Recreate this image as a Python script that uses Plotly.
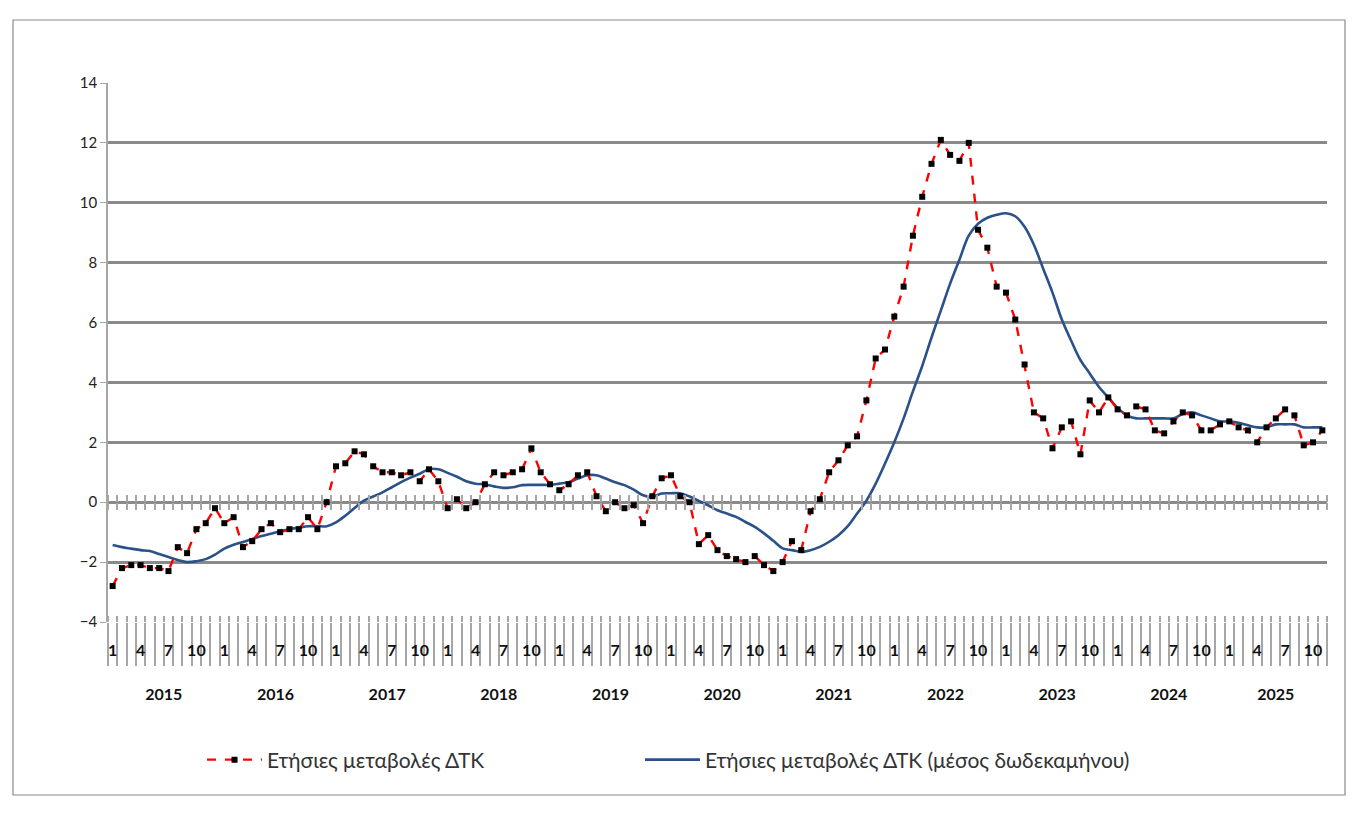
import plotly.graph_objects as go

# ετήσιες μεταβολές ΔΤΚ (%), Ιαν 2015 - Νοε 2025
cpi_yoy = [
    -2.8, -2.2, -2.1, -2.1, -2.2, -2.2, -2.3, -1.5, -1.7, -0.9, -0.7, -0.2,  # 2015
    -0.7, -0.5, -1.5, -1.3, -0.9, -0.7, -1.0, -0.9, -0.9, -0.5, -0.9, 0.0,   # 2016
    1.2, 1.3, 1.7, 1.6, 1.2, 1.0, 1.0, 0.9, 1.0, 0.7, 1.1, 0.7,             # 2017
    -0.2, 0.1, -0.2, 0.0, 0.6, 1.0, 0.9, 1.0, 1.1, 1.8, 1.0, 0.6,           # 2018
    0.4, 0.6, 0.9, 1.0, 0.2, -0.3, 0.0, -0.2, -0.1, -0.7, 0.2, 0.8,         # 2019
    0.9, 0.2, 0.0, -1.4, -1.1, -1.6, -1.8, -1.9, -2.0, -1.8, -2.1, -2.3,    # 2020
    -2.0, -1.3, -1.6, -0.3, 0.1, 1.0, 1.4, 1.9, 2.2, 3.4, 4.8, 5.1,         # 2021
    6.2, 7.2, 8.9, 10.2, 11.3, 12.1, 11.6, 11.4, 12.0, 9.1, 8.5, 7.2,       # 2022
    7.0, 6.1, 4.6, 3.0, 2.8, 1.8, 2.5, 2.7, 1.6, 3.4, 3.0, 3.5,             # 2023
    3.1, 2.9, 3.2, 3.1, 2.4, 2.3, 2.7, 3.0, 2.9, 2.4, 2.4, 2.6,             # 2024
    2.7, 2.5, 2.4, 2.0, 2.5, 2.8, 3.1, 2.9, 1.9, 2.0, 2.4,                  # 2025
]

# μέσος δωδεκαμήνου (διαβασμένος από το διάγραμμα)
cpi_12m = [
    -1.43, -1.5, -1.55, -1.6, -1.63, -1.73, -1.83, -1.93, -2.0, -1.97, -1.9, -1.75,
    -1.55, -1.42, -1.33, -1.23, -1.13, -1.05, -0.97, -0.9, -0.85, -0.8, -0.8, -0.8,
    -0.67, -0.45, -0.19, 0.05, 0.19, 0.33, 0.5, 0.67, 0.82, 0.95, 1.1, 1.1,
    0.98, 0.85, 0.7, 0.62, 0.6, 0.53, 0.48, 0.5, 0.57, 0.58, 0.58, 0.58,
    0.62, 0.67, 0.79, 0.9, 0.9, 0.79, 0.67, 0.57, 0.42, 0.23, 0.18, 0.29,
    0.3, 0.3, 0.19, 0.04, -0.1, -0.27, -0.38, -0.49, -0.66, -0.82, -1.04, -1.29,
    -1.54, -1.6, -1.66, -1.6, -1.49, -1.32, -1.1, -0.8, -0.38, 0.05, 0.62, 1.29,
    2.0, 2.8, 3.7, 4.55, 5.5, 6.4, 7.3, 8.1, 8.9, 9.3, 9.5, 9.6,
    9.65, 9.55, 9.2, 8.6, 7.8, 7.0, 6.1, 5.4, 4.75, 4.3, 3.85, 3.5,
    3.15, 2.9, 2.8, 2.8, 2.8, 2.8, 2.8, 2.95, 3.0, 2.9, 2.8, 2.7,
    2.7, 2.65, 2.57, 2.5, 2.5, 2.6, 2.6, 2.6, 2.5, 2.5, 2.5,
]

years = ["2015", "2016", "2017", "2018", "2019", "2020",
         "2021", "2022", "2023", "2024", "2025"]
month_labels = ["1", "", "", "4", "", "", "7", "", "", "10", "", ""]

name_yoy = "Ετήσιες μεταβολές ΔΤΚ"
name_avg = "Ετήσιες μεταβολές ΔΤΚ (μέσος δωδεκαμήνου)"

n = len(cpi_yoy)
idx = list(range(n))
FONT = "Lato"
GRID = "#8a8a8a"
TICK = "#a6a6a6"

# θέσεις ετικετών άξονα x
m_vals = [i for i in idx if month_labels[i % 12]]
m_text = [month_labels[i % 12] for i in m_vals]
y_vals = [12 * k + 5.5 for k in range(len(years))]
y_vals[-1] = 120 + (n - 120 - 1) / 2
bounds_year = [12 * k - 0.5 for k in range(len(years))] + [n - 0.5]
bounds_month = [i - 0.5 for i in range(n + 1)]

fig = go.Figure()
fig.add_trace(go.Scatter(
    x=idx, y=cpi_12m, name=name_avg, mode="lines",
    line=dict(color="#2a5188", width=2.6, shape="spline"),
    legend="legend2",
))
fig.add_trace(go.Scatter(
    x=idx, y=cpi_yoy, name=name_yoy, mode="lines+markers",
    line=dict(color="#ff0000", width=2.4, dash="dash"),
    marker=dict(symbol="square", size=6, color="black"),
    legend="legend",
))
# κενά ίχνη ώστε να σχεδιαστούν οι βοηθητικοί άξονες
for ax in ["x2", "x3", "x4", "x5", "x6"]:
    fig.add_trace(go.Scatter(x=[None], y=[None], xaxis=ax, yaxis="y",
                             showlegend=False, hoverinfo="skip"))

rng = [-0.5, n - 0.5]
p0 = (0 - (-4)) / 18
L, R, T, B = 100, 41, 75, 207
pw, ph = 1360 - L - R, 821 - T - B
leg_y = (T + ph - 752) / ph
leg_style = dict(orientation="h", y=leg_y, xanchor="left", yanchor="middle",
                 itemwidth=55, font=dict(size=21, color="#333"),
                 bgcolor="rgba(0,0,0,0)")

fig.update_layout(
    width=1360, height=821,
    margin=dict(l=L, r=R, t=T, b=B),
    paper_bgcolor="white", plot_bgcolor="white",
    font=dict(family=FONT, size=14, color="#222"),
    showlegend=True,
    legend=dict(x=(194 - L) / pw, **leg_style),
    legend2=dict(x=(632 - L) / pw, **leg_style),
    yaxis=dict(range=[-4, 14], dtick=2, showgrid=True, gridcolor=GRID,
               gridwidth=2.8, zeroline=False, showline=True, linecolor=TICK,
               linewidth=1.5, ticks="outside", ticklen=6, tickcolor=TICK,
               tickfont=dict(size=15, color="#222")),
    # διαχωριστικά ετών και μηνών
    xaxis=dict(range=rng, showgrid=False, zeroline=False, showline=False,
               tickmode="array", tickvals=bounds_year,
               ticktext=[""] * len(bounds_year),
               ticks="outside", ticklen=85, tickwidth=1.5, tickcolor=TICK,
               minor=dict(tickmode="array", tickvals=bounds_month,
                          ticks="outside", ticklen=43, tickwidth=1.5,
                          tickcolor=TICK, showgrid=False)),
    # ετικέτες μηνών
    xaxis2=dict(range=rng, overlaying="x", anchor="y", side="bottom",
                showgrid=False, zeroline=False, showline=False,
                tickmode="array", tickvals=m_vals, ticktext=m_text,
                ticks="outside", ticklen=14, tickcolor="rgba(0,0,0,0)",
                tickfont=dict(size=16, color="#111", family=FONT, weight="bold")),
    # ετικέτες ετών
    xaxis3=dict(range=rng, overlaying="x", anchor="y", side="bottom",
                showgrid=False, zeroline=False, showline=False,
                tickmode="array", tickvals=y_vals, ticktext=years,
                ticks="outside", ticklen=58, tickcolor="rgba(0,0,0,0)",
                tickfont=dict(size=16, color="#111", family=FONT, weight="bold")),
    # γραμμή υποδιαιρέσεων στο μηδέν
    xaxis4=dict(range=rng, overlaying="x", anchor="free", position=p0,
                side="bottom", showgrid=False, zeroline=False, showline=False,
                tickmode="array", tickvals=bounds_month,
                ticktext=[""] * len(bounds_month),
                ticks="outside", ticklen=7, tickwidth=1.5, tickcolor=TICK),
    xaxis5=dict(range=rng, overlaying="x", anchor="free", position=p0,
                side="top", showgrid=False, zeroline=False, showline=False,
                tickmode="array", tickvals=bounds_month,
                ticktext=[""] * len(bounds_month),
                ticks="outside", ticklen=7, tickwidth=1.5, tickcolor=TICK),
    xaxis6=dict(range=rng, overlaying="x", anchor="free", position=0,
                side="top", showgrid=False, zeroline=False, showline=False,
                tickmode="array", tickvals=bounds_month,
                ticktext=[""] * len(bounds_month),
                ticks="outside", ticklen=6, tickwidth=1.5, tickcolor=TICK),
)

# πλαίσιο γύρω από το διάγραμμα
fig.add_shape(type="rect", xref="paper", yref="paper",
              x0=(5 - L) / pw, x1=(1337 - L) / pw,
              y0=(T + ph - 787) / ph, y1=(T + ph - 12) / ph,
              line=dict(color="#8a8a8a", width=1.2), layer="below")

fig.write_html("out.html")
